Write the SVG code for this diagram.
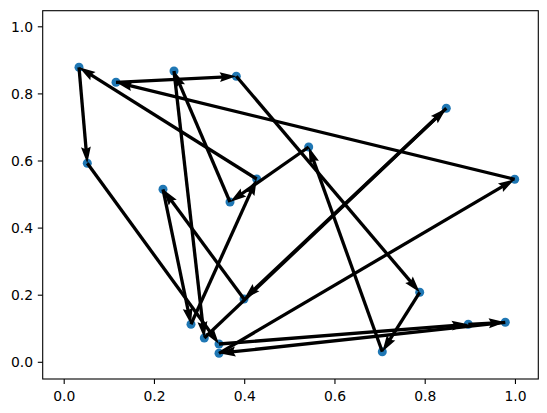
<svg xmlns="http://www.w3.org/2000/svg" width="547" height="413" viewBox="0 0 547 413">
<style>
.tick{stroke:#000;stroke-width:1.1}
.lbl{font-family:"DejaVu Sans",sans-serif;font-size:13.9px;fill:#000}
.pt{fill:#1f77b4}
.arr{stroke:#000;stroke-width:3.3;fill:none;marker-end:url(#head)}
</style>
<defs>
<marker id="head" markerUnits="userSpaceOnUse" viewBox="0 -6 18 12" markerWidth="18" markerHeight="12" refX="6.5" refY="0" orient="auto" overflow="visible">
<path d="M16.5,0 L0,4.95 L1.65,1.65 L1.65,-1.65 L0,-4.95 Z" fill="#000"/>
</marker>
</defs>
<rect width="547" height="413" fill="#fff"/>
<g id="axes">
<g id="xticks">
<line class="tick" x1="64.2" y1="379" x2="64.2" y2="383.9"/>
<line class="tick" x1="154.45" y1="379" x2="154.45" y2="383.9"/>
<line class="tick" x1="244.7" y1="379" x2="244.7" y2="383.9"/>
<line class="tick" x1="334.95" y1="379" x2="334.95" y2="383.9"/>
<line class="tick" x1="425.2" y1="379" x2="425.2" y2="383.9"/>
<line class="tick" x1="515.45" y1="379" x2="515.45" y2="383.9"/>
<text class="lbl" x="64.2" y="401" text-anchor="middle">0.0</text>
<text class="lbl" x="154.45" y="401" text-anchor="middle">0.2</text>
<text class="lbl" x="244.7" y="401" text-anchor="middle">0.4</text>
<text class="lbl" x="334.95" y="401" text-anchor="middle">0.6</text>
<text class="lbl" x="425.2" y="401" text-anchor="middle">0.8</text>
<text class="lbl" x="515.45" y="401" text-anchor="middle">1.0</text>
</g>
<g id="yticks">
<line class="tick" x1="42.7" y1="362.3" x2="37.8" y2="362.3"/>
<line class="tick" x1="42.7" y1="295.2" x2="37.8" y2="295.2"/>
<line class="tick" x1="42.7" y1="228.1" x2="37.8" y2="228.1"/>
<line class="tick" x1="42.7" y1="161" x2="37.8" y2="161"/>
<line class="tick" x1="42.7" y1="93.9" x2="37.8" y2="93.9"/>
<line class="tick" x1="42.7" y1="26.8" x2="37.8" y2="26.8"/>
<text class="lbl" x="33" y="367.3" text-anchor="end">0.0</text>
<text class="lbl" x="33" y="300.2" text-anchor="end">0.2</text>
<text class="lbl" x="33" y="233.1" text-anchor="end">0.4</text>
<text class="lbl" x="33" y="166" text-anchor="end">0.6</text>
<text class="lbl" x="33" y="98.9" text-anchor="end">0.8</text>
<text class="lbl" x="33" y="31.8" text-anchor="end">1.0</text>
</g>
</g>
<g id="nodes">
<circle id="A" class="pt" cx="79" cy="67.3" r="4.5"/>
<circle id="B" class="pt" cx="116" cy="82.3" r="4.5"/>
<circle id="C" class="pt" cx="174" cy="71" r="4.5"/>
<circle id="D" class="pt" cx="236.3" cy="76.3" r="4.5"/>
<circle id="E" class="pt" cx="87.3" cy="163.3" r="4.5"/>
<circle id="F" class="pt" cx="256.7" cy="179" r="4.5"/>
<circle id="G" class="pt" cx="163" cy="189.3" r="4.5"/>
<circle id="H" class="pt" cx="230" cy="202" r="4.5"/>
<circle id="I" class="pt" cx="446.3" cy="108.3" r="4.5"/>
<circle id="J" class="pt" cx="308.7" cy="147" r="4.5"/>
<circle id="K" class="pt" cx="514.7" cy="179.3" r="4.5"/>
<circle id="L" class="pt" cx="244" cy="299" r="4.5"/>
<circle id="M" class="pt" cx="191" cy="324.3" r="4.5"/>
<circle id="N" class="pt" cx="204.3" cy="338" r="4.5"/>
<circle id="O" class="pt" cx="219" cy="344" r="4.5"/>
<circle id="P" class="pt" cx="219" cy="353.3" r="4.5"/>
<circle id="Q" class="pt" cx="419.7" cy="292.3" r="4.5"/>
<circle id="R" class="pt" cx="468.3" cy="324.3" r="4.5"/>
<circle id="S" class="pt" cx="505.3" cy="322.3" r="4.5"/>
<circle id="T" class="pt" cx="382.3" cy="351.7" r="4.5"/>
</g>
<g id="connectors">
<line class="arr" x1="79" y1="67.3" x2="86.44" y2="153.34"/>
<line class="arr" x1="87.3" y1="163.3" x2="213.11" y2="335.92"/>
<line class="arr" x1="219" y1="344" x2="458.33" y2="325.09"/>
<line class="arr" x1="468.3" y1="324.3" x2="495.31" y2="322.84"/>
<line class="arr" x1="505.3" y1="322.3" x2="228.94" y2="352.22"/>
<line class="arr" x1="219" y1="353.3" x2="506.08" y2="184.37"/>
<line class="arr" x1="514.7" y1="179.3" x2="125.72" y2="84.66"/>
<line class="arr" x1="116" y1="82.3" x2="226.31" y2="76.8"/>
<line class="arr" x1="236.3" y1="76.3" x2="413.23" y2="284.68"/>
<line class="arr" x1="419.7" y1="292.3" x2="387.63" y2="343.24"/>
<line class="arr" x1="382.3" y1="351.7" x2="312.08" y2="156.41"/>
<line class="arr" x1="308.7" y1="147" x2="238.2" y2="196.27"/>
<line class="arr" x1="230" y1="202" x2="177.93" y2="80.2"/>
<line class="arr" x1="174" y1="71" x2="203.17" y2="328.06"/>
<line class="arr" x1="204.3" y1="338" x2="439.05" y2="115.18"/>
<line class="arr" x1="446.3" y1="108.3" x2="251.28" y2="292.14"/>
<line class="arr" x1="244" y1="299" x2="168.94" y2="197.35"/>
<line class="arr" x1="163" y1="189.3" x2="188.97" y2="314.51"/>
<line class="arr" x1="191" y1="324.3" x2="252.58" y2="188.11"/>
<line class="arr" x1="256.7" y1="179" x2="87.47" y2="72.62"/>
</g>
<rect id="frame" x="42.7" y="10.7" width="495.6" height="368.3" fill="none" stroke="#000" stroke-width="1.1"/>
</svg>
